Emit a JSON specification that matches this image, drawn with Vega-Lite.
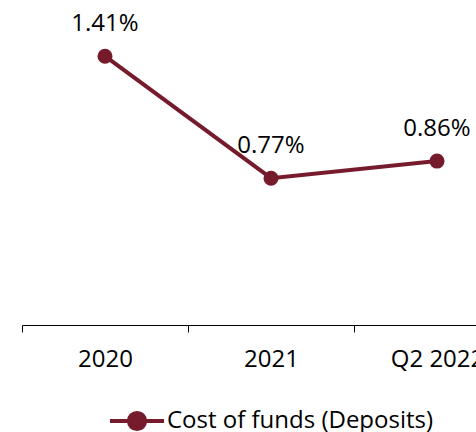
{
  "$schema": "https://vega.github.io/schema/vega-lite/v6.json",
  "autosize": {"type": "none"},
  "padding": {"top": 20, "left": 22, "right": 0, "bottom": 107},
  "width": 454,
  "height": 305,
  "background": "white",
  "config": {
    "view": {"stroke": null},
    "font": "Open Sans"
  },
  "data": {
    "values": [
      {"period": "2020", "value": 0.0141, "series": "Cost of funds (Deposits)"},
      {"period": "2021", "value": 0.0077, "series": "Cost of funds (Deposits)"},
      {"period": "Q2 2022", "value": 0.0086, "series": "Cost of funds (Deposits)"}
    ]
  },
  "encoding": {
    "x": {
      "field": "period",
      "type": "ordinal",
      "sort": null,
      "scale": {"type": "band", "range": [0, 498], "paddingInner": 0, "paddingOuter": 0},
      "axis": {
        "title": null,
        "labelAngle": 0,
        "tickBand": "extent",
        "domainColor": "#000000",
        "tickColor": "#000000",
        "tickSize": 7,
        "labelPadding": 15,
        "labelFontSize": 24,
        "labelColor": "#000000",
        "labelFont": "Open Sans",
        "grid": false
      }
    },
    "y": {
      "field": "value",
      "type": "quantitative",
      "scale": {"domain": [0, 0.016], "nice": false, "zero": true},
      "axis": null
    }
  },
  "layer": [
    {
      "mark": {"type": "line", "strokeWidth": 4},
      "encoding": {
        "color": {
          "field": "series",
          "type": "nominal",
          "scale": {"range": ["#761B2C"]},
          "legend": {
            "title": null,
            "orient": "none",
            "legendX": 86,
            "legendY": 372,
            "labelFontSize": 24,
            "labelFont": "Open Sans",
            "labelColor": "#000000",
            "labelOffset": 1,
            "labelLimit": 0,
            "symbolType": "M-1,0H1M-0.3,0A0.3,0.3 0 1,0 0.3,0A0.3,0.3 0 1,0 -0.3,0Z",
            "symbolSize": 2916,
            "symbolStrokeWidth": 4,
            "symbolFillColor": "#761B2C",
            "symbolStrokeColor": "#761B2C",
            "encode": {
              "symbols": {
                "update": {
                  "fill": {"value": "#761B2C"},
                  "stroke": {"value": "#761B2C"},
                  "strokeWidth": {"value": 4},
                  "opacity": {"value": 1}
                }
              }
            }
          }
        }
      }
    },
    {
      "mark": {"type": "point", "filled": true, "size": 227, "opacity": 1},
      "encoding": {
        "color": {"field": "series", "type": "nominal"}
      }
    },
    {
      "mark": {"type": "text", "fontSize": 24, "font": "Open Sans", "color": "#000000", "baseline": "alphabetic", "dy": -25},
      "encoding": {
        "text": {"field": "value", "type": "quantitative", "format": ".2%"}
      }
    }
  ]
}
